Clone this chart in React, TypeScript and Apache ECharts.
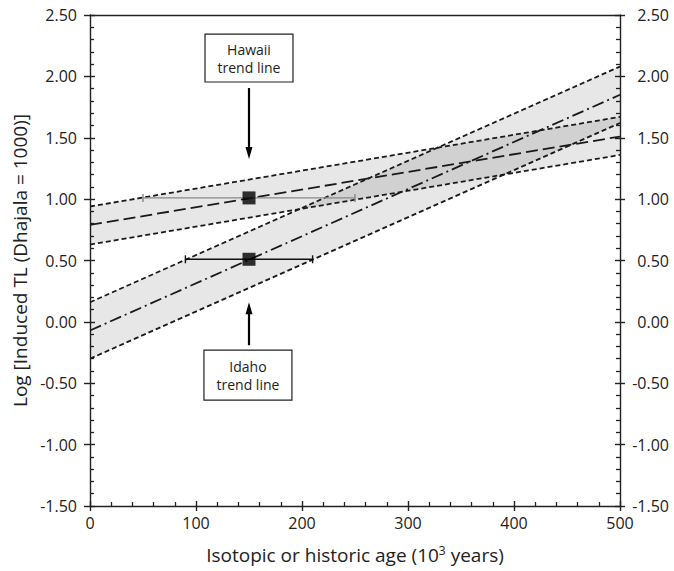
import React, { useEffect, useRef } from "react";
import * as echarts from "echarts";

// Band end points at age 0 and 500 (upper, trend, lower)
const ages = [0, 500];
const hawaiiUpper = [0.94, 1.67];
const hawaiiTrend = [0.79, 1.51];
const hawaiiLower = [0.63, 1.36];
const idahoUpper = [0.16, 2.08];
const idahoTrend = [-0.07, 1.85];
const idahoLower = [-0.3, 1.62];

// Mean points with horizontal error bars: [age, value, low, high]
const hawaiiPoint = [150, 1.01, 50, 250];
const idahoPoint = [150, 0.51, 90, 210];

// Annotation boxes: [x0, x1, yTop, yBottom], label lines
const hawaiiBox = [108.5, 191.5, 2.345, 1.954];
const hawaiiLabel = ["Hawaii", "trend line"];
const hawaiiArrow = [150, 1.905, 1.375];
const idahoBox = [107.5, 190.5, -0.23, -0.638];
const idahoLabel = ["Idaho", "trend line"];
const idahoArrow = [150, -0.19, 0.112];

const FONT = "Open Sans";

export default function App() {
  const ref = useRef<HTMLDivElement>(null);
  useEffect(() => {
    const chart = echarts.init(ref.current!, null, { renderer: "svg" });

    const band = (upper: number[], lower: number[], name: string) => ({
      type: "custom",
      name,
      xAxisIndex: 0,
      yAxisIndex: 0,
      data: [0],
      silent: true,
      z: 1,
      renderItem: (params: any, api: any) => {
        const pts = [
          api.coord([ages[0], upper[0]]),
          api.coord([ages[1], upper[1]]),
          api.coord([ages[1], lower[1]]),
          api.coord([ages[0], lower[0]]),
        ];
        return {
          type: "polygon",
          shape: { points: pts },
          style: { fill: "rgba(0,0,0,0.095)", stroke: "none" },
        };
      },
    });

    const line = (vals: number[], dash: number[], width = 1.8) => ({
      type: "line",
      xAxisIndex: 0,
      yAxisIndex: 0,
      data: [
        [ages[0], vals[0]],
        [ages[1], vals[1]],
      ],
      symbol: "none",
      silent: true,
      z: 3,
      lineStyle: { color: "#1a1a1a", width, type: dash },
    });

    const errBar = (p: number[], color: string) => ({
      type: "custom",
      xAxisIndex: 0,
      yAxisIndex: 0,
      data: [p],
      silent: true,
      z: 4,
      renderItem: (params: any, api: any) => {
        const a = api.coord([p[2], p[1]]);
        const b = api.coord([p[3], p[1]]);
        const st = { stroke: color, lineWidth: 1.4 };
        return {
          type: "group",
          children: [
            { type: "line", shape: { x1: a[0], y1: a[1], x2: b[0], y2: b[1] }, style: st },
            { type: "line", shape: { x1: a[0], y1: a[1] - 4, x2: a[0], y2: a[1] + 4 }, style: st },
            { type: "line", shape: { x1: b[0], y1: b[1] - 4, x2: b[0], y2: b[1] + 4 }, style: st },
          ],
        };
      },
    });

    const box = (bx: number[], label: string[]) => ({
      type: "custom",
      xAxisIndex: 0,
      yAxisIndex: 0,
      data: [0],
      silent: true,
      z: 6,
      renderItem: (params: any, api: any) => {
        const tl = api.coord([bx[0], bx[2]]);
        const br = api.coord([bx[1], bx[3]]);
        const cx = (tl[0] + br[0]) / 2;
        const cy = (tl[1] + br[1]) / 2;
        const ts = (t: string, y: number) => ({
          type: "text",
          style: {
            x: cx,
            y,
            text: t,
            fill: "#222",
            font: `14px "${FONT}"`,
            align: "center",
            verticalAlign: "middle",
          },
        });
        return {
          type: "group",
          children: [
            {
              type: "rect",
              shape: { x: tl[0], y: tl[1], width: br[0] - tl[0], height: br[1] - tl[1] },
              style: { fill: "#fff", stroke: "#222", lineWidth: 1.2 },
            },
            ts(label[0], cy - 9),
            ts(label[1], cy + 9),
          ],
        };
      },
    });

    const arrow = (ar: number[]) => ({
      type: "line",
      xAxisIndex: 0,
      yAxisIndex: 0,
      data: [],
      silent: true,
      z: 6,
      markLine: {
        silent: true,
        animation: false,
        symbol: ["none", "triangle"],
        symbolSize: [7, 12],
        label: { show: false },
        lineStyle: { color: "#000", width: 2.2, type: "solid" },
        data: [[{ coord: [ar[0], ar[1]] }, { coord: [ar[0], ar[2]] }]],
      },
    });

    const labelStyle = { color: "#222", fontFamily: FONT, fontSize: 16 };
    const lineSt = { color: "#222", width: 1.4 };
    const minorSt = { color: "#222", width: 1.3 };

    chart.setOption({
      animation: false,
      backgroundColor: "#fff",
      grid: { left: 90, right: 54, top: 15, bottom: 65 },
      xAxis: [
        {
          type: "value",
          min: 0,
          max: 500,
          interval: 100,
          position: "bottom",
          axisLine: { show: true, onZero: false, lineStyle: lineSt },
          axisTick: { show: true, inside: true, length: 5, lineStyle: lineSt },
          minorTick: { show: true, splitNumber: 5, length: 4, lineStyle: minorSt },
          splitLine: { show: false },
          axisLabel: { ...labelStyle, margin: 9 },
          name: "Isotopic or historic age (10{sup|3} years)",
          nameLocation: "middle",
          nameGap: 38,
          nameTextStyle: {
            color: "#222",
            fontFamily: FONT,
            fontSize: 19,
            rich: { sup: { fontFamily: FONT, fontSize: 12, color: "#222", verticalAlign: "top", padding: [0, 0, 9, 0] } },
          },
        },
        {
          type: "value",
          min: 0,
          max: 500,
          interval: 100,
          position: "bottom",
          axisLine: { show: false, onZero: false },
          axisTick: { show: true, inside: false, length: 5, lineStyle: lineSt },
          axisLabel: { show: false },
          splitLine: { show: false },
        },
        {
          type: "value",
          min: 0,
          max: 500,
          position: "top",
          axisLine: { show: true, onZero: false, lineStyle: lineSt },
          axisTick: { show: false },
          axisLabel: { show: false },
          splitLine: { show: false },
        },
      ],
      yAxis: [
        {
          type: "value",
          min: -1.5,
          max: 2.5,
          interval: 0.5,
          position: "left",
          axisLine: { show: true, onZero: false, lineStyle: lineSt },
          axisTick: { show: true, inside: true, length: 5, lineStyle: lineSt },
          minorTick: { show: true, splitNumber: 5, length: 4, lineStyle: minorSt },
          splitLine: { show: false },
          axisLabel: { ...labelStyle, margin: 13, formatter: (v: number) => v.toFixed(2) },
          name: "Log [Induced TL (Dhajala = 1000)]",
          nameLocation: "middle",
          nameGap: 58,
          nameTextStyle: { color: "#222", fontFamily: FONT, fontSize: 19 },
        },
        {
          type: "value",
          min: -1.5,
          max: 2.5,
          interval: 0.5,
          position: "left",
          axisLine: { show: false, onZero: false },
          axisTick: { show: true, inside: false, length: 6, lineStyle: lineSt },
          axisLabel: { show: false },
          splitLine: { show: false },
        },
        {
          type: "value",
          min: -1.5,
          max: 2.5,
          interval: 0.5,
          position: "right",
          axisLine: { show: true, onZero: false, lineStyle: lineSt },
          axisTick: { show: true, inside: true, length: 5, lineStyle: lineSt },
          minorTick: { show: true, splitNumber: 5, length: 4, lineStyle: minorSt },
          splitLine: { show: false },
          axisLabel: { ...labelStyle, margin: 49, align: "right", formatter: (v: number) => v.toFixed(2) },
        },
        {
          type: "value",
          min: -1.5,
          max: 2.5,
          interval: 0.5,
          position: "right",
          axisLine: { show: false, onZero: false },
          axisTick: { show: true, inside: false, length: 5, lineStyle: lineSt },
          axisLabel: { show: false },
          splitLine: { show: false },
        },
      ],
      series: [
        band(hawaiiUpper, hawaiiLower, "Hawaii band"),
        band(idahoUpper, idahoLower, "Idaho band"),
        line(hawaiiUpper, [5, 3]),
        line(hawaiiLower, [5, 3]),
        line(idahoUpper, [5, 3]),
        line(idahoLower, [5, 3]),
        line(hawaiiTrend, [12, 5]),
        line(idahoTrend, [12, 4, 2, 4]),
        errBar(hawaiiPoint, "#888"),
        errBar(idahoPoint, "#111"),
        {
          type: "scatter",
          xAxisIndex: 0,
          yAxisIndex: 0,
          symbol: "rect",
          symbolSize: 13,
          itemStyle: { color: "#000" },
          z: 5,
          silent: true,
          data: [
            [hawaiiPoint[0], hawaiiPoint[1]],
            [idahoPoint[0], idahoPoint[1]],
          ],
        },
        box(hawaiiBox, hawaiiLabel),
        box(idahoBox, idahoLabel),
        arrow(hawaiiArrow),
        arrow(idahoArrow),
      ],
    });
    return () => chart.dispose();
  }, []);
  return (
    <div
      ref={ref}
      style={{ position: "absolute", left: 0, top: 0, width: 674, height: 571 }}
    />
  );
}
